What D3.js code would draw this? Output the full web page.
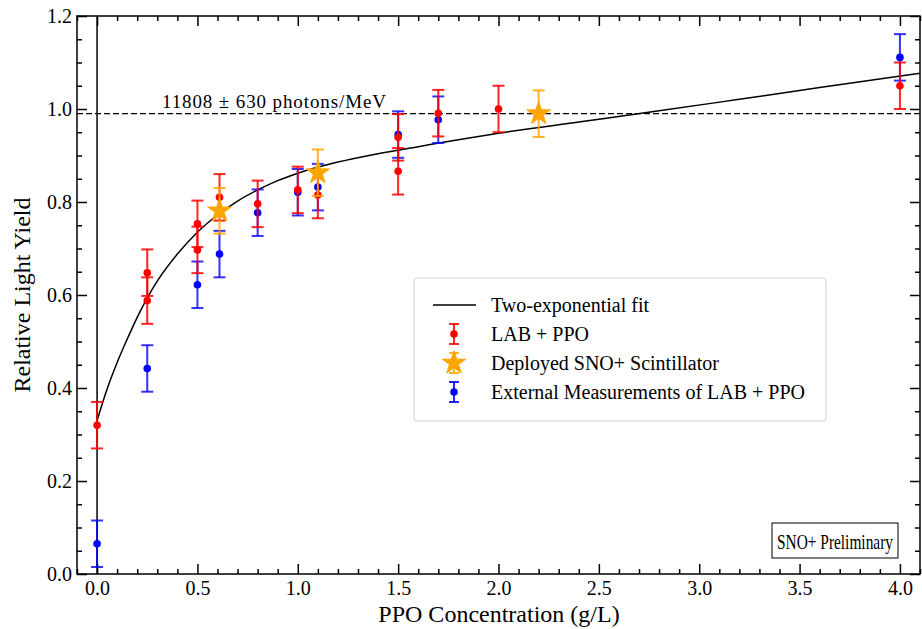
<!DOCTYPE html>
<html>
<head>
<meta charset="utf-8">
<script src="https://cdn.jsdelivr.net/npm/d3@7"></script>
<style>
  body { margin: 0; background: #fff; }
  svg text { font-family: 'Liberation Serif', 'Times New Roman', Times, 'DejaVu Serif', serif; }
</style>
</head>
<body>
<svg id="chart" width="922" height="629"></svg>
<script>
// LAB + PPO (red)
const labX = [0.0, 0.25, 0.25, 0.5, 0.5, 0.61, 0.8, 1.0, 1.1, 1.5, 1.5, 1.7, 2.0, 4.0];
const labY = [0.32, 0.648, 0.588, 0.753, 0.697, 0.81, 0.796, 0.826, 0.815, 0.939, 0.866, 0.991, 1.0, 1.05];
const labErr = [0.05, 0.05, 0.05, 0.05, 0.05, 0.05, 0.05, 0.05, 0.05, 0.05, 0.05, 0.05, 0.05, 0.05];

// external measurements (blue)
const extX = [0.0, 0.25, 0.5, 0.61, 0.8, 1.0, 1.1, 1.5, 1.7, 4.0];
const extY = [0.065, 0.442, 0.622, 0.688, 0.777, 0.821, 0.832, 0.945, 0.977, 1.111];
const extErr = [0.05, 0.05, 0.05, 0.05, 0.05, 0.05, 0.05, 0.05, 0.05, 0.05];

// deployed scintillator (stars)
const depX = [0.61, 1.1, 2.2];
const depY = [0.781, 0.863, 0.99];
const depErr = [0.049, 0.05, 0.05];

// fit curve
const fitX = [0, 0.05, 0.1, 0.15, 0.2, 0.25, 0.3, 0.4, 0.5, 0.6, 0.7, 0.8, 0.9, 1.0, 1.2, 1.4, 1.6, 1.8, 2.0, 2.4, 2.8, 3.2, 3.6, 4.1];
const fitY = [0.33, 0.398, 0.455, 0.505, 0.552, 0.594, 0.63, 0.688, 0.735, 0.772, 0.802, 0.826, 0.846, 0.862, 0.886, 0.904, 0.919, 0.934, 0.948, 0.972, 0.996, 1.021, 1.046, 1.077];

const refLevel = 0.99;
const refLabel = "11808 \u00b1 630 photons/MeV";

const xTicks = [0, 0.5, 1, 1.5, 2, 2.5, 3, 3.5, 4];
const yTicks = [0, 0.2, 0.4, 0.6, 0.8, 1.0, 1.2];

const legendLabels = ["Two-exponential fit", "LAB + PPO", "Deployed SNO+ Scintillator", "External Measurements of LAB + PPO"];

const RED = "#ff0000", BLUE = "#0000ff", ORANGE = "#ffa500";
const SERIF = "'Liberation Serif', 'Times New Roman', Times, 'DejaVu Serif', serif";

const svg = d3.select("#chart");
const plot = { left: 77, right: 920, top: 16, bottom: 574 };

const x = d3.scaleLinear().domain([-0.1, 4.1]).range([plot.left, plot.right]);
const y = d3.scaleLinear().domain([0, 1.2]).range([plot.bottom, plot.top]);

// axes: major + minor ticks on all four sides
const xMinor = d3.range(-0.1, 4.1001, 0.1).map((v) => +v.toFixed(2)).filter((v) => !xTicks.includes(v));
const yMinor = d3.range(0, 1.2001, 0.05).map((v) => +v.toFixed(2)).filter((v) => !yTicks.includes(v));

const fmt = d3.format(".1f");

const axisStyle = (g) => {
  g.attr("font-family", SERIF);
  g.select(".domain").remove();
  g.selectAll("line").attr("stroke", "#000").attr("stroke-width", 1.5);
  g.selectAll("text").attr("font-size", 20).attr("fill", "#000").style("font-family", SERIF);
};

svg.append("g").attr("transform", `translate(0,${plot.bottom})`)
  .call(d3.axisTop(x).tickValues(xTicks).tickSize(10).tickFormat(""))
  .call(axisStyle);
svg.append("g").attr("transform", `translate(0,${plot.bottom})`)
  .call(d3.axisTop(x).tickValues(xMinor).tickSize(5).tickFormat(""))
  .call(axisStyle);
svg.append("g").attr("transform", `translate(0,${plot.bottom + 3})`)
  .call(d3.axisBottom(x).tickValues(xTicks).tickSize(0).tickPadding(4).tickFormat(fmt))
  .call(axisStyle);

svg.append("g").attr("transform", `translate(0,${plot.top})`)
  .call(d3.axisBottom(x).tickValues(xTicks).tickSize(10).tickFormat(""))
  .call(axisStyle);
svg.append("g").attr("transform", `translate(0,${plot.top})`)
  .call(d3.axisBottom(x).tickValues(xMinor).tickSize(5).tickFormat(""))
  .call(axisStyle);

svg.append("g").attr("transform", `translate(${plot.left},0)`)
  .call(d3.axisRight(y).tickValues(yTicks).tickSize(10).tickFormat(""))
  .call(axisStyle);
svg.append("g").attr("transform", `translate(${plot.left},0)`)
  .call(d3.axisRight(y).tickValues(yMinor).tickSize(5).tickFormat(""))
  .call(axisStyle);
svg.append("g").attr("transform", `translate(${plot.left - 3},0)`)
  .call(d3.axisLeft(y).tickValues(yTicks).tickSize(0).tickPadding(2).tickFormat(fmt))
  .call(axisStyle);

svg.append("g").attr("transform", `translate(${plot.right},0)`)
  .call(d3.axisLeft(y).tickValues(yTicks).tickSize(10).tickFormat(""))
  .call(axisStyle);
svg.append("g").attr("transform", `translate(${plot.right},0)`)
  .call(d3.axisLeft(y).tickValues(yMinor).tickSize(5).tickFormat(""))
  .call(axisStyle);

// frame
svg.append("rect")
  .attr("x", plot.left).attr("y", plot.top)
  .attr("width", plot.right - plot.left).attr("height", plot.bottom - plot.top)
  .attr("fill", "none").attr("stroke", "#000").attr("stroke-width", 1.5);

// vertical line at x = 0
svg.append("line")
  .attr("x1", x(0)).attr("x2", x(0))
  .attr("y1", plot.top).attr("y2", plot.bottom)
  .attr("stroke", "#000").attr("stroke-width", 1.5);

// reference dashed line
svg.append("line")
  .attr("x1", plot.left).attr("x2", plot.right)
  .attr("y1", y(refLevel)).attr("y2", y(refLevel))
  .attr("stroke", "#000").attr("stroke-width", 1.2)
  .attr("stroke-dasharray", "6,3");

svg.append("text")
  .attr("x", 162).attr("y", y(refLevel) - 6)
  .attr("font-size", 19).attr("textLength", 224).attr("lengthAdjust", "spacing")
  .style("font-family", SERIF).text(refLabel);

// fit curve
const fitData = fitX.map((v, i) => ({ x: v, y: fitY[i] }));
svg.append("path")
  .datum(fitData)
  .attr("fill", "none").attr("stroke", "#000").attr("stroke-width", 1.5)
  .attr("d", d3.line().x((d) => x(d.x)).y((d) => y(d.y)).curve(d3.curveMonotoneX));

// error bar helper
const drawErrors = (xs, ys, es, color, opacity) => {
  const data = xs.map((v, i) => ({ x: v, y: ys[i], e: es[i] }));
  const g = svg.append("g").attr("stroke", color).attr("stroke-opacity", opacity).attr("stroke-width", 2);
  g.selectAll(".bar").data(data).enter().append("line")
    .attr("x1", (d) => x(d.x)).attr("x2", (d) => x(d.x))
    .attr("y1", (d) => y(d.y - d.e)).attr("y2", (d) => y(d.y + d.e));
  g.selectAll(".capTop").data(data).enter().append("line")
    .attr("x1", (d) => x(d.x) - 6).attr("x2", (d) => x(d.x) + 6)
    .attr("y1", (d) => y(d.y + d.e)).attr("y2", (d) => y(d.y + d.e));
  g.selectAll(".capBot").data(data).enter().append("line")
    .attr("x1", (d) => x(d.x) - 6).attr("x2", (d) => x(d.x) + 6)
    .attr("y1", (d) => y(d.y - d.e)).attr("y2", (d) => y(d.y - d.e));
  return data;
};

const extData = drawErrors(extX, extY, extErr, BLUE, 0.8);
svg.append("g").selectAll("circle").data(extData).enter().append("circle")
  .attr("cx", (d) => x(d.x)).attr("cy", (d) => y(d.y)).attr("r", 3.8).attr("fill", BLUE);

const labData = drawErrors(labX, labY, labErr, RED, 0.85);
svg.append("g").selectAll("circle").data(labData).enter().append("circle")
  .attr("cx", (d) => x(d.x)).attr("cy", (d) => y(d.y)).attr("r", 3.8).attr("fill", RED);

const depData = drawErrors(depX, depY, depErr, ORANGE, 0.85);
const star = d3.symbol().type(d3.symbolStar).size(170);
svg.append("g").selectAll("path").data(depData).enter().append("path")
  .attr("transform", (d) => `translate(${x(d.x)},${y(d.y)})`)
  .attr("d", star).attr("fill", ORANGE).attr("stroke", ORANGE).attr("stroke-width", 1);

// legend
const legend = svg.append("g");
legend.append("rect")
  .attr("x", 414).attr("y", 278).attr("width", 412).attr("height", 143).attr("rx", 3)
  .attr("fill", "#fff").attr("fill-opacity", 0.9).attr("stroke", "#d0d0d0").attr("stroke-width", 1);

const legY = [305, 334, 363, 392];
const symX = 454;
legend.append("line").attr("x1", 433).attr("x2", 476).attr("y1", legY[0]).attr("y2", legY[0])
  .attr("stroke", "#000").attr("stroke-width", 1.5);

const legendErr = (cy, color) => {
  const g = legend.append("g").attr("stroke", color).attr("stroke-opacity", 0.85).attr("stroke-width", 2);
  g.append("line").attr("x1", symX).attr("x2", symX).attr("y1", cy - 10).attr("y2", cy + 10);
  g.append("line").attr("x1", symX - 5).attr("x2", symX + 5).attr("y1", cy - 10).attr("y2", cy - 10);
  g.append("line").attr("x1", symX - 5).attr("x2", symX + 5).attr("y1", cy + 10).attr("y2", cy + 10);
};
legendErr(legY[1], RED);
legend.append("circle").attr("cx", symX).attr("cy", legY[1]).attr("r", 3.8).attr("fill", RED);
legendErr(legY[2], ORANGE);
legend.append("path").attr("transform", `translate(${symX},${legY[2]})`).attr("d", star)
  .attr("fill", ORANGE).attr("stroke", ORANGE);
legendErr(legY[3], BLUE);
legend.append("circle").attr("cx", symX).attr("cy", legY[3]).attr("r", 3.8).attr("fill", BLUE);

legend.selectAll(".lab").data(legendLabels).enter().append("text")
  .attr("x", 491).attr("y", (d, i) => legY[i]).attr("dy", "0.35em")
  .attr("font-size", 20).style("font-family", SERIF).text((d) => d);

// preliminary box (text drawn condensed, as in the original)
svg.append("rect").attr("x", 772).attr("y", 523).attr("width", 126).attr("height", 35)
  .attr("fill", "#fff").attr("stroke", "#000").attr("stroke-width", 1);
svg.append("text").attr("transform", "translate(835,541) scale(0.7,1)").attr("dy", "0.35em")
  .attr("text-anchor", "middle").attr("font-size", 22)
  .style("font-family", SERIF).text("SNO+ Preliminary");

// axis titles
svg.append("text").attr("x", 499).attr("y", 622)
  .attr("text-anchor", "middle").attr("font-size", 24).style("font-family", SERIF).text("PPO Concentration (g/L)");
svg.append("text").attr("transform", `translate(30,${(plot.top + plot.bottom) / 2}) rotate(-90)`)
  .attr("text-anchor", "middle").attr("font-size", 24).style("font-family", SERIF).text("Relative Light Yield");
</script>
</body>
</html>
